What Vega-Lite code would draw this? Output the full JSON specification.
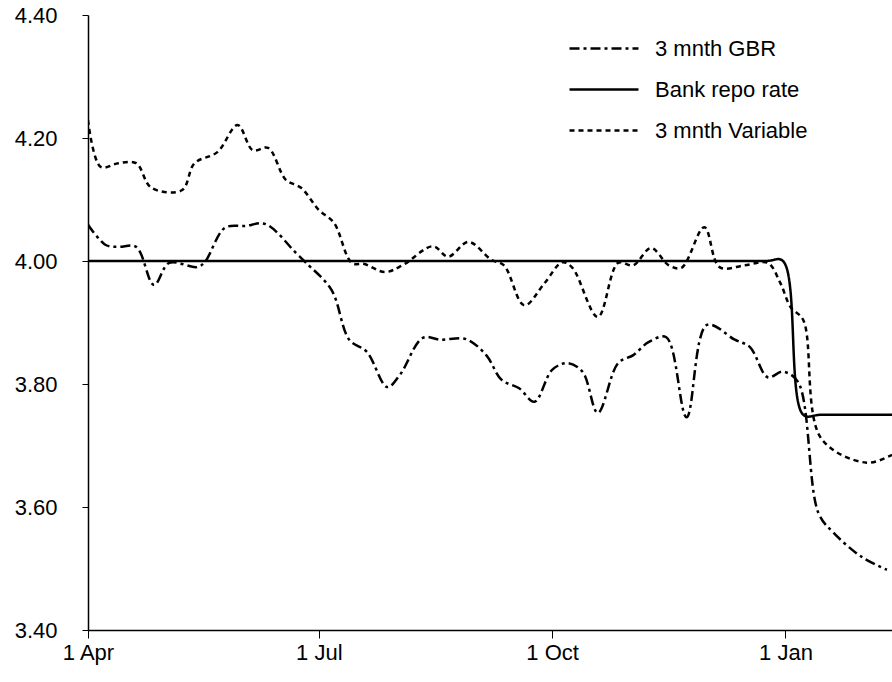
{
  "$schema": "https://vega.github.io/schema/vega-lite/v6.json",
  "width": 804,
  "height": 615,
  "autosize": {"type": "none"},
  "padding": {"left": 88, "top": 15, "right": 0, "bottom": 52},
  "background": "white",
  "config": {"view": {"stroke": null}, "font": "Liberation Sans"},
  "datasets": {
    "series": [
      {"series": "3 mnth GBR", "date": "2002-04-01", "rate": 4.059},
      {"series": "3 mnth GBR", "date": "2002-04-08", "rate": 4.026},
      {"series": "3 mnth GBR", "date": "2002-04-13", "rate": 4.023},
      {"series": "3 mnth GBR", "date": "2002-04-20", "rate": 4.023},
      {"series": "3 mnth GBR", "date": "2002-04-27", "rate": 3.961},
      {"series": "3 mnth GBR", "date": "2002-05-03", "rate": 3.997},
      {"series": "3 mnth GBR", "date": "2002-05-14", "rate": 3.990},
      {"series": "3 mnth GBR", "date": "2002-05-17", "rate": 3.998},
      {"series": "3 mnth GBR", "date": "2002-05-25", "rate": 4.054},
      {"series": "3 mnth GBR", "date": "2002-06-02", "rate": 4.057},
      {"series": "3 mnth GBR", "date": "2002-06-10", "rate": 4.060},
      {"series": "3 mnth GBR", "date": "2002-06-22", "rate": 4.013},
      {"series": "3 mnth GBR", "date": "2002-06-26", "rate": 3.997},
      {"series": "3 mnth GBR", "date": "2002-07-06", "rate": 3.953},
      {"series": "3 mnth GBR", "date": "2002-07-13", "rate": 3.872},
      {"series": "3 mnth GBR", "date": "2002-07-20", "rate": 3.852},
      {"series": "3 mnth GBR", "date": "2002-07-28", "rate": 3.795},
      {"series": "3 mnth GBR", "date": "2002-08-02", "rate": 3.815},
      {"series": "3 mnth GBR", "date": "2002-08-11", "rate": 3.875},
      {"series": "3 mnth GBR", "date": "2002-08-18", "rate": 3.872},
      {"series": "3 mnth GBR", "date": "2002-08-28", "rate": 3.873},
      {"series": "3 mnth GBR", "date": "2002-09-05", "rate": 3.847},
      {"series": "3 mnth GBR", "date": "2002-09-11", "rate": 3.807},
      {"series": "3 mnth GBR", "date": "2002-09-18", "rate": 3.793},
      {"series": "3 mnth GBR", "date": "2002-09-24", "rate": 3.771},
      {"series": "3 mnth GBR", "date": "2002-10-01", "rate": 3.823},
      {"series": "3 mnth GBR", "date": "2002-10-07", "rate": 3.834},
      {"series": "3 mnth GBR", "date": "2002-10-13", "rate": 3.820},
      {"series": "3 mnth GBR", "date": "2002-10-19", "rate": 3.753},
      {"series": "3 mnth GBR", "date": "2002-10-27", "rate": 3.834},
      {"series": "3 mnth GBR", "date": "2002-11-02", "rate": 3.847},
      {"series": "3 mnth GBR", "date": "2002-11-08", "rate": 3.868},
      {"series": "3 mnth GBR", "date": "2002-11-15", "rate": 3.876},
      {"series": "3 mnth GBR", "date": "2002-11-23", "rate": 3.746},
      {"series": "3 mnth GBR", "date": "2002-12-01", "rate": 3.896},
      {"series": "3 mnth GBR", "date": "2002-12-12", "rate": 3.872},
      {"series": "3 mnth GBR", "date": "2002-12-18", "rate": 3.860},
      {"series": "3 mnth GBR", "date": "2002-12-25", "rate": 3.811},
      {"series": "3 mnth GBR", "date": "2002-12-31", "rate": 3.820},
      {"series": "3 mnth GBR", "date": "2003-01-06", "rate": 3.803},
      {"series": "3 mnth GBR", "date": "2003-01-14", "rate": 3.590},
      {"series": "3 mnth GBR", "date": "2003-01-20", "rate": 3.558},
      {"series": "3 mnth GBR", "date": "2003-01-31", "rate": 3.519},
      {"series": "3 mnth GBR", "date": "2003-02-10", "rate": 3.498},
      {"series": "Bank repo rate", "date": "2002-04-01", "rate": 4.0},
      {"series": "Bank repo rate", "date": "2002-12-24", "rate": 4.0},
      {"series": "Bank repo rate", "date": "2002-12-31", "rate": 4.0},
      {"series": "Bank repo rate", "date": "2003-01-08", "rate": 3.75},
      {"series": "Bank repo rate", "date": "2003-01-15", "rate": 3.75},
      {"series": "Bank repo rate", "date": "2003-02-12", "rate": 3.75},
      {"series": "3 mnth Variable", "date": "2002-04-01", "rate": 4.229},
      {"series": "3 mnth Variable", "date": "2002-04-06", "rate": 4.153},
      {"series": "3 mnth Variable", "date": "2002-04-13", "rate": 4.159},
      {"series": "3 mnth Variable", "date": "2002-04-20", "rate": 4.159},
      {"series": "3 mnth Variable", "date": "2002-04-26", "rate": 4.119},
      {"series": "3 mnth Variable", "date": "2002-05-08", "rate": 4.115},
      {"series": "3 mnth Variable", "date": "2002-05-13", "rate": 4.159},
      {"series": "3 mnth Variable", "date": "2002-05-22", "rate": 4.177},
      {"series": "3 mnth Variable", "date": "2002-05-30", "rate": 4.221},
      {"series": "3 mnth Variable", "date": "2002-06-05", "rate": 4.180},
      {"series": "3 mnth Variable", "date": "2002-06-11", "rate": 4.184},
      {"series": "3 mnth Variable", "date": "2002-06-18", "rate": 4.132},
      {"series": "3 mnth Variable", "date": "2002-06-24", "rate": 4.119},
      {"series": "3 mnth Variable", "date": "2002-07-01", "rate": 4.083},
      {"series": "3 mnth Variable", "date": "2002-07-07", "rate": 4.062},
      {"series": "3 mnth Variable", "date": "2002-07-14", "rate": 3.997},
      {"series": "3 mnth Variable", "date": "2002-07-19", "rate": 3.995},
      {"series": "3 mnth Variable", "date": "2002-07-27", "rate": 3.982},
      {"series": "3 mnth Variable", "date": "2002-08-03", "rate": 3.993},
      {"series": "3 mnth Variable", "date": "2002-08-15", "rate": 4.024},
      {"series": "3 mnth Variable", "date": "2002-08-21", "rate": 4.007},
      {"series": "3 mnth Variable", "date": "2002-08-29", "rate": 4.031},
      {"series": "3 mnth Variable", "date": "2002-09-07", "rate": 4.002},
      {"series": "3 mnth Variable", "date": "2002-09-12", "rate": 3.993},
      {"series": "3 mnth Variable", "date": "2002-09-20", "rate": 3.928},
      {"series": "3 mnth Variable", "date": "2002-09-28", "rate": 3.964},
      {"series": "3 mnth Variable", "date": "2002-10-05", "rate": 3.998},
      {"series": "3 mnth Variable", "date": "2002-10-09", "rate": 3.989},
      {"series": "3 mnth Variable", "date": "2002-10-19", "rate": 3.909},
      {"series": "3 mnth Variable", "date": "2002-10-27", "rate": 3.997},
      {"series": "3 mnth Variable", "date": "2002-11-02", "rate": 3.993},
      {"series": "3 mnth Variable", "date": "2002-11-09", "rate": 4.021},
      {"series": "3 mnth Variable", "date": "2002-11-16", "rate": 3.993},
      {"series": "3 mnth Variable", "date": "2002-11-21", "rate": 3.989},
      {"series": "3 mnth Variable", "date": "2002-11-30", "rate": 4.055},
      {"series": "3 mnth Variable", "date": "2002-12-06", "rate": 3.990},
      {"series": "3 mnth Variable", "date": "2002-12-16", "rate": 3.993},
      {"series": "3 mnth Variable", "date": "2002-12-25", "rate": 3.997},
      {"series": "3 mnth Variable", "date": "2002-12-30", "rate": 3.964},
      {"series": "3 mnth Variable", "date": "2003-01-03", "rate": 3.925},
      {"series": "3 mnth Variable", "date": "2003-01-08", "rate": 3.904},
      {"series": "3 mnth Variable", "date": "2003-01-15", "rate": 3.712},
      {"series": "3 mnth Variable", "date": "2003-02-02", "rate": 3.672},
      {"series": "3 mnth Variable", "date": "2003-02-12", "rate": 3.685}
    ]
  },
  "layer": [
    {
      "data": {"name": "series"},
      "mark": {"type": "line", "interpolate": "catmull-rom", "strokeWidth": 2.5, "color": "black", "clip": true},
      "encoding": {
        "x": {
          "field": "date",
          "type": "temporal",
          "scale": {
            "type": "utc",
            "domain": [
              {"year": 2002, "month": 4, "date": 1, "utc": true},
              {"year": 2003, "month": 2, "date": 12, "utc": true}
            ]
          },
          "axis": {
            "values": [
              {"year": 2002, "month": 4, "date": 1, "utc": true},
              {"year": 2002, "month": 7, "date": 1, "utc": true},
              {"year": 2002, "month": 10, "date": 1, "utc": true},
              {"year": 2003, "month": 1, "date": 1, "utc": true}
            ],
            "format": "%-d %b",
            "title": null,
            "grid": false,
            "labelFont": "Liberation Sans",
            "labelFontSize": 22,
            "labelColor": "black",
            "labelPadding": 4,
            "labelFlush": false,
            "labelOverlap": false,
            "tickColor": "black",
            "tickSize": 8,
            "tickWidth": 1,
            "domainColor": "black",
            "domainWidth": 1.5
          }
        },
        "y": {
          "field": "rate",
          "type": "quantitative",
          "scale": {"domain": [3.4, 4.4], "nice": false, "zero": false},
          "axis": {
            "values": [3.4, 3.6, 3.8, 4.0, 4.2, 4.4],
            "format": ".2f",
            "title": null,
            "grid": false,
            "labelFont": "Liberation Sans",
            "labelFontSize": 22,
            "labelColor": "black",
            "labelPadding": 25,
            "tickColor": "black",
            "tickSize": 6,
            "tickWidth": 1,
            "domainColor": "black",
            "domainWidth": 1.5
          }
        },
        "strokeDash": {
          "field": "series",
          "type": "nominal",
          "scale": {
            "domain": ["3 mnth GBR", "Bank repo rate", "3 mnth Variable"],
            "range": [[10, 4, 3, 4], [1, 0], [5, 4]]
          },
          "legend": {
            "title": null,
            "orient": "none",
            "legendX": 480,
            "legendY": 13,
            "padding": 0,
            "symbolType": "stroke",
            "symbolSize": 4761,
            "symbolStrokeWidth": 2.5,
            "symbolStrokeColor": "black",
            "labelFont": "Liberation Sans",
            "labelFontSize": 22,
            "labelColor": "black",
            "labelOffset": 15,
            "clipHeight": 41,
            "rowPadding": 0
          }
        }
      }
    },
    {
      "mark": {"type": "rule", "color": "#444444", "strokeWidth": 1},
      "encoding": {"y": {"datum": 4.4}}
    }
  ]
}
